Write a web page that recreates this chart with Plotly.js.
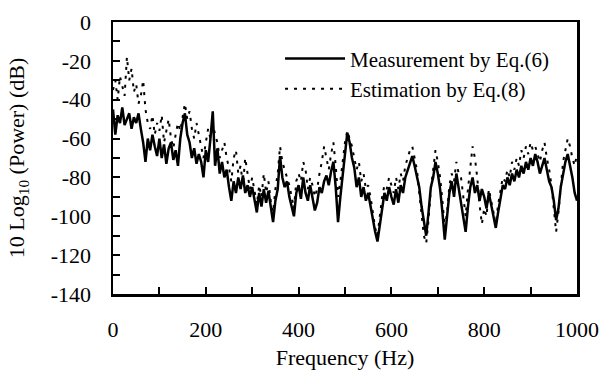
<!DOCTYPE html>
<html><head><meta charset="utf-8">
<script src="https://cdn.plot.ly/plotly-3.0.1.min.js"></script>
<style>html,body{margin:0;padding:0;background:#fff}</style>
</head><body>
<div id="chart" style="width:602px;height:370px"></div>
<script>
// Frequency grid (Hz), 5 Hz step
var freq = [];
for (var f = 0; f <= 1000; f += 5) freq.push(f);

var measurement = [
-45,-58,-48,-52,-44,-53,-50,-47,-55,-49,
-52,-47,-55,-62,-72,-60,-66,-58,-64,-69,
-60,-70,-63,-73,-65,-62,-71,-66,-74,-60,
-52,-47,-58,-62,-70,-65,-73,-68,-72,-80,
-66,-72,-60,-46,-74,-65,-78,-72,-80,-76,
-85,-92,-82,-88,-80,-86,-79,-88,-84,-90,
-85,-92,-98,-88,-95,-86,-93,-87,-96,-103,
-92,-86,-69,-80,-85,-82,-90,-95,-100,-88,
-84,-91,-80,-88,-92,-84,-90,-97,-93,-85,
-88,-82,-79,-84,-77,-72,-85,-103,-90,-78,
-66,-57,-62,-70,-75,-85,-80,-90,-85,-92,
-88,-95,-100,-108,-113,-104,-95,-88,-92,-85,
-90,-94,-86,-93,-84,-88,-80,-76,-72,-69,
-74,-80,-85,-95,-103,-110,-98,-85,-80,-72,
-78,-86,-98,-112,-100,-88,-82,-90,-78,-86,
-92,-100,-108,-95,-85,-80,-88,-84,-92,-86,
-90,-96,-88,-94,-100,-106,-98,-90,-84,-86,
-80,-84,-78,-82,-76,-80,-74,-78,-72,-76,
-70,-74,-68,-72,-78,-74,-70,-76,-82,-85,
-92,-102,-96,-85,-78,-72,-68,-74,-80,-88,
-92
];

var estimation = [
-35,-30,-40,-28,-33,-38,-18,-30,-24,-36,
-32,-42,-38,-30,-45,-52,-55,-48,-58,-52,
-56,-48,-62,-55,-50,-60,-65,-58,-52,-56,
-48,-42,-50,-46,-55,-60,-52,-58,-64,-70,
-62,-55,-60,-52,-58,-62,-70,-66,-62,-70,
-75,-82,-70,-66,-78,-74,-84,-70,-78,-86,
-80,-88,-94,-84,-90,-78,-88,-82,-92,-98,
-86,-78,-64,-72,-76,-80,-84,-90,-96,-82,
-78,-82,-72,-76,-86,-80,-84,-90,-86,-78,
-72,-64,-70,-76,-68,-62,-74,-90,-82,-72,
-62,-56,-60,-64,-70,-76,-72,-82,-78,-86,
-84,-90,-98,-106,-110,-100,-90,-84,-86,-80,
-84,-88,-80,-86,-78,-82,-74,-70,-66,-64,
-70,-76,-88,-100,-110,-114,-102,-86,-76,-66,
-72,-80,-92,-106,-98,-84,-78,-82,-72,-78,
-80,-90,-100,-86,-74,-64,-70,-80,-94,-104,
-96,-100,-86,-92,-98,-104,-94,-86,-80,-82,
-76,-80,-72,-76,-70,-74,-66,-70,-64,-68,
-62,-66,-64,-68,-72,-66,-62,-70,-76,-84,
-96,-108,-98,-84,-72,-66,-60,-64,-70,-74,
-68
];

var seriesNames = ["Measurement by Eq.(6)", "Estimation by Eq.(8)"];
var xTicks = [0, 200, 400, 600, 800, 1000];
var yTicks = [0, -20, -40, -60, -80, -100, -120, -140];

var serif = "Liberation Serif";

var traces = [
  {x: freq, y: measurement, name: seriesNames[0], type: "scatter", mode: "lines",
   line: {color: "#000", width: 2.5, dash: "solid"}},
  {x: freq, y: estimation, name: seriesNames[1], type: "scatter", mode: "lines",
   line: {color: "#000", width: 2, dash: "3px,6px"}}
];

var layout = {
  width: 602, height: 370,
  margin: {l: 113, r: 25, t: 22, b: 76},
  paper_bgcolor: "#fff", plot_bgcolor: "#fff",
  font: {family: serif, color: "#000", size: 22},
  showlegend: true,
  legend: {x: 0.36, y: 0.94, xanchor: "left", yanchor: "top",
           bgcolor: "rgba(0,0,0,0)", font: {family: serif, size: 21, color: "#000"},
           tracegroupgap: 0, itemwidth: 60},
  xaxis: {range: [0, 1000], tickvals: xTicks, ticktext: xTicks.map(String),
          ticks: "inside", ticklen: 7, tickwidth: 2, tickcolor: "#000",
          minor: {dtick: 100, ticks: "inside", ticklen: 7, tickwidth: 2, tickcolor: "#000"},
          showline: true, linewidth: 2.5, linecolor: "#000", mirror: true,
          showgrid: false, zeroline: false, ticklabelstandoff: 14,
          tickfont: {family: serif, size: 22},
          title: {text: "Frequency (Hz)", font: {family: serif, size: 22}, standoff: 10}},
  yaxis: {range: [-140, 0], tickvals: yTicks, ticktext: yTicks.map(String),
          ticks: "inside", ticklen: 7, tickwidth: 2, tickcolor: "#000",
          minor: {dtick: 10, ticks: "inside", ticklen: 7, tickwidth: 2, tickcolor: "#000"},
          showline: true, linewidth: 2.5, linecolor: "#000", mirror: true,
          showgrid: false, zeroline: false, ticklabelstandoff: 15,
          tickfont: {family: serif, size: 22},
          title: {text: "10 Log<sub>10</sub> (Power) (dB)", font: {family: serif, size: 22}, standoff: 20}}
};

Plotly.newPlot("chart", traces, layout, {displayModeBar: false, staticPlot: true});
</script>
</body></html>
